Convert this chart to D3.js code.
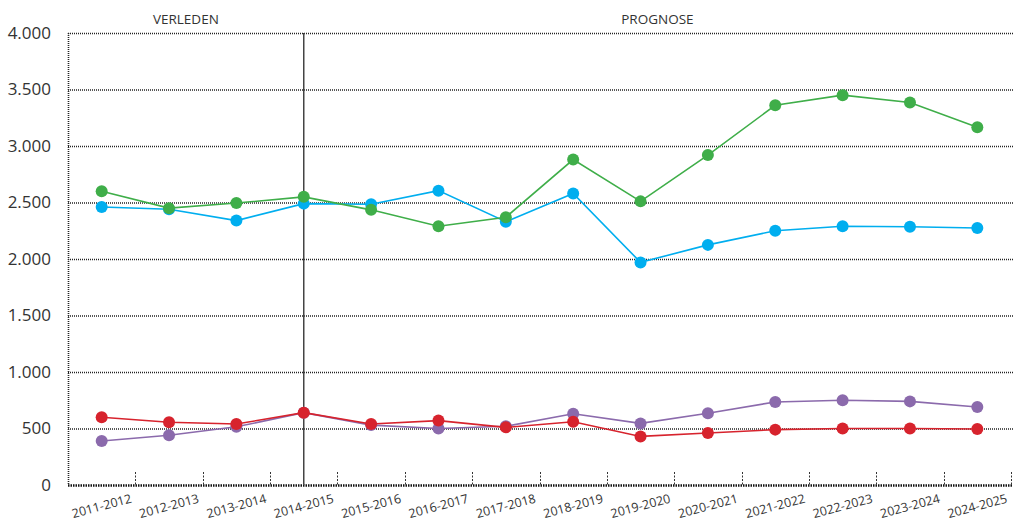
<!DOCTYPE html>
<html>
<head>
<meta charset="utf-8">
<script src="https://cdn.jsdelivr.net/npm/d3@7"></script>
<style>
  html, body { margin: 0; padding: 0; background: #fff; }
  svg { display: block; }
  text { font-family: "Open Sans", "DejaVu Sans", sans-serif; fill: #333; }
</style>
</head>
<body>
<svg id="chart" width="1013" height="525"></svg>
<script>
const categories = ["2011-2012","2012-2013","2013-2014","2014-2015","2015-2016","2016-2017","2017-2018","2018-2019","2019-2020","2020-2021","2021-2022","2022-2023","2023-2024","2024-2025"];
const greenValues  = [2600, 2450, 2495, 2550, 2435, 2290, 2370, 2880, 2510, 2920, 3360, 3450, 3385, 3165];
const blueValues   = [2460, 2440, 2340, 2490, 2485, 2605, 2330, 2580, 1970, 2125, 2250, 2290, 2285, 2275];
const purpleValues = [390, 440, 515, 640, 530, 500, 520, 630, 545, 635, 735, 750, 740, 690];
const redValues    = [600, 555, 540, 640, 540, 570, 510, 560, 430, 460, 490, 500, 500, 495];
const yTicks = [0, 500, 1000, 1500, 2000, 2500, 3000, 3500, 4000];
const periodLabels = ["VERLEDEN", "PROGNOSE"];
const splitCategory = "2014-2015";

const series = [
  { name: "blue",   values: blueValues,   color: "#00aeef" },
  { name: "green",  values: greenValues,  color: "#3fae49" },
  { name: "purple", values: purpleValues, color: "#8b6aac" },
  { name: "red",    values: redValues,    color: "#d7232d" }
];

(function () {
const svg = d3.select("#chart");
const pLeft = 68, pRight = 1011, pTop = 33, pBottom = 485;

const x = d3.scaleBand().domain(categories).range([pLeft, pRight]).padding(0);
const cx = c => x(c) + x.bandwidth() / 2;
const y = d3.scaleLinear().domain([0, 4000]).range([pBottom, pTop]);
const fmt = v => d3.format(",")(v).replace(/,/g, ".");

// horizontal gridlines
svg.append("g").selectAll("line").data(yTicks.filter(t => t > 0)).join("line")
  .attr("x1", pLeft).attr("x2", 1013)
  .attr("y1", d => y(d) + 0.5).attr("y2", d => y(d) + 0.5)
  .attr("stroke", "#222").attr("stroke-width", 1.3).attr("stroke-dasharray", "1,1");

// y axis line (dotted)
svg.append("line").attr("x1", pLeft + 0.5).attr("x2", pLeft + 0.5).attr("y1", pTop).attr("y2", pBottom)
  .attr("stroke", "#222").attr("stroke-width", 1.6).attr("stroke-dasharray", "1,1");

// bottom axis (thick dotted)
svg.append("line").attr("x1", pLeft).attr("x2", 1013).attr("y1", pBottom + 0.5).attr("y2", pBottom + 0.5)
  .attr("stroke", "#111").attr("stroke-width", 2.4).attr("stroke-dasharray", "1.5,1");

// small x ticks at band boundaries
const boundaries = categories.map(c => x(c) + x.bandwidth());
svg.append("g").selectAll("line").data(boundaries).join("line")
  .attr("x1", d => Math.round(d) + 0.5).attr("x2", d => Math.round(d) + 0.5)
  .attr("y1", pBottom - 13).attr("y2", pBottom)
  .attr("stroke", "#333").attr("stroke-width", 1).attr("stroke-dasharray", "2,1.5");

// y labels
svg.append("g").selectAll("text").data(yTicks).join("text")
  .attr("x", 51).attr("y", d => y(d)).attr("dy", "0.35em")
  .attr("text-anchor", "end").attr("font-size", 17).attr("font-weight", 400)
  .text(d => fmt(d));

// x labels
svg.append("g").selectAll("text").data(categories).join("text")
  .attr("transform", d => `translate(${cx(d)},${pBottom + 21}) rotate(-15)`)
  .attr("text-anchor", "middle").attr("dy", "0.35em")
  .attr("font-size", 12.5).attr("font-weight", 400)
  .text(d => d);

// split line
const sx = cx(splitCategory);
svg.append("line").attr("x1", sx).attr("x2", sx).attr("y1", pTop).attr("y2", pBottom)
  .attr("stroke", "#444").attr("stroke-width", 1.5);

// period labels
svg.append("text").attr("x", (pLeft + sx) / 2).attr("y", 19).attr("dy", "0.35em")
  .attr("text-anchor", "middle").attr("font-size", 13.5).text(periodLabels[0]);
svg.append("text").attr("x", (sx + pRight) / 2).attr("y", 19).attr("dy", "0.35em")
  .attr("text-anchor", "middle").attr("font-size", 13.5).text(periodLabels[1]);

// series
const line = d3.line().x((d, i) => cx(categories[i])).y(d => y(d));
series.forEach(s => {
  const g = svg.append("g");
  g.append("path").datum(s.values).attr("d", line)
    .attr("fill", "none").attr("stroke", s.color).attr("stroke-width", 1.6);
  g.selectAll("circle").data(s.values).join("circle")
    .attr("cx", (d, i) => cx(categories[i])).attr("cy", d => y(d))
    .attr("r", 6).attr("fill", s.color);
});
})();
</script>
</body>
</html>
